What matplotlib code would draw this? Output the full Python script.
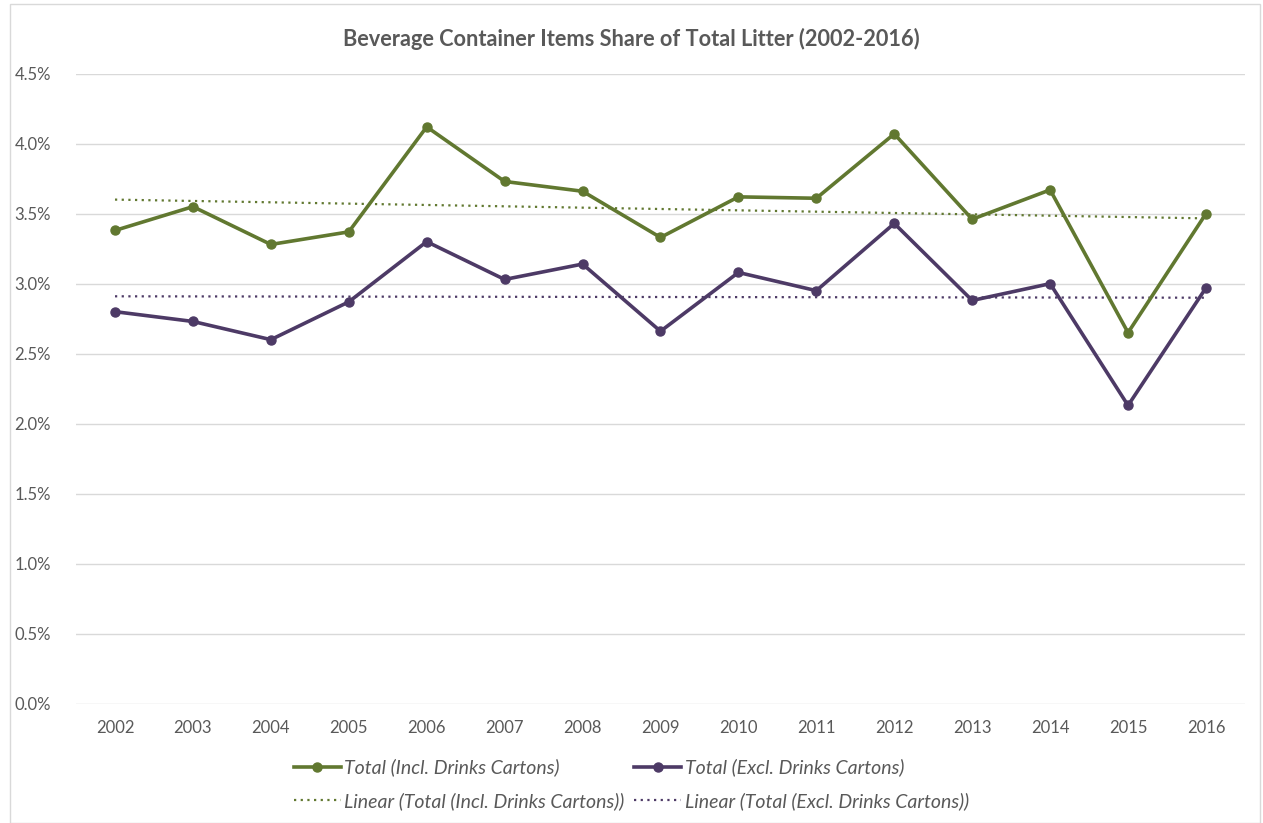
import numpy as np
import matplotlib
matplotlib.use("Agg")
import matplotlib.pyplot as plt
from matplotlib.patches import Rectangle
from matplotlib.ticker import FuncFormatter

years = np.arange(2002, 2017)
incl_cartons = [3.38, 3.55, 3.28, 3.37, 4.12, 3.73, 3.66, 3.33, 3.62, 3.61,
                4.07, 3.46, 3.67, 2.65, 3.50]
excl_cartons = [2.80, 2.73, 2.60, 2.87, 3.30, 3.03, 3.14, 2.66, 3.08, 2.95,
                3.43, 2.88, 3.00, 2.13, 2.97]

green = "#617830"
purple = "#4D3A66"
grey_txt = "#595959"

plt.rcParams['font.family'] = ['Lato', 'DejaVu Sans']

fig = plt.figure(figsize=(12.63, 8.23), dpi=100)
ax = fig.add_axes([0.0602, 0.145, 0.9255, 0.7655])

# linear trends (Excel style)
x = np.arange(len(years))
fit_in = np.polyfit(x, incl_cartons, 1)
fit_ex = np.polyfit(x, excl_cartons, 1)

l1, = ax.plot(years, incl_cartons, color=green, lw=2.6, marker='o', ms=6.5,
              label='Total (Incl. Drinks Cartons)', zorder=4)
l2, = ax.plot(years, excl_cartons, color=purple, lw=2.6, marker='o', ms=6.5,
              label='Total (Excl. Drinks Cartons)', zorder=4)
t1, = ax.plot(years, np.polyval(fit_in, x), color=green, lw=1.6, ls=(0, (1, 2)),
              label='Linear (Total (Incl. Drinks Cartons))', zorder=3)
t2, = ax.plot(years, np.polyval(fit_ex, x), color=purple, lw=1.6, ls=(0, (1, 2)),
              label='Linear (Total (Excl. Drinks Cartons))', zorder=3)

ax.set_xlim(2001.5, 2016.5)
ax.set_ylim(0, 4.5)
ax.set_yticks(np.arange(0, 4.51, 0.5))
ax.yaxis.set_major_formatter(FuncFormatter(lambda v, p: f"{v:.1f}%"))
ax.set_xticks(years)
ax.grid(axis='y', color='#d9d9d9', lw=1)
ax.set_axisbelow(True)
for s in ax.spines.values():
    s.set_visible(False)
ax.tick_params(length=0, labelsize=12, colors=grey_txt, pad=12)
ax.tick_params(axis='y', pad=18)

fig.text(0.5, 0.953, 'Beverage Container Items Share of Total Litter (2002-2016)',
         ha='center', va='center', fontsize=15.7, fontweight='bold', color=grey_txt)

leg = fig.legend(handles=[l1, t1, l2, t2], ncol=2, loc='center',
                 bbox_to_anchor=(0.5, 0.047), frameon=False,
                 prop={'style': 'italic', 'size': 14}, handlelength=2.4,
                 handletextpad=0.2, columnspacing=0.5, labelspacing=0.8)
for t in leg.get_texts():
    t.set_color(grey_txt)

fig.patches.append(Rectangle((0.008, 0.0), 0.99, 0.995, transform=fig.transFigure,
                             fill=False, edgecolor='#d9d9d9', lw=1))

fig.savefig('out.png', dpi=100)
